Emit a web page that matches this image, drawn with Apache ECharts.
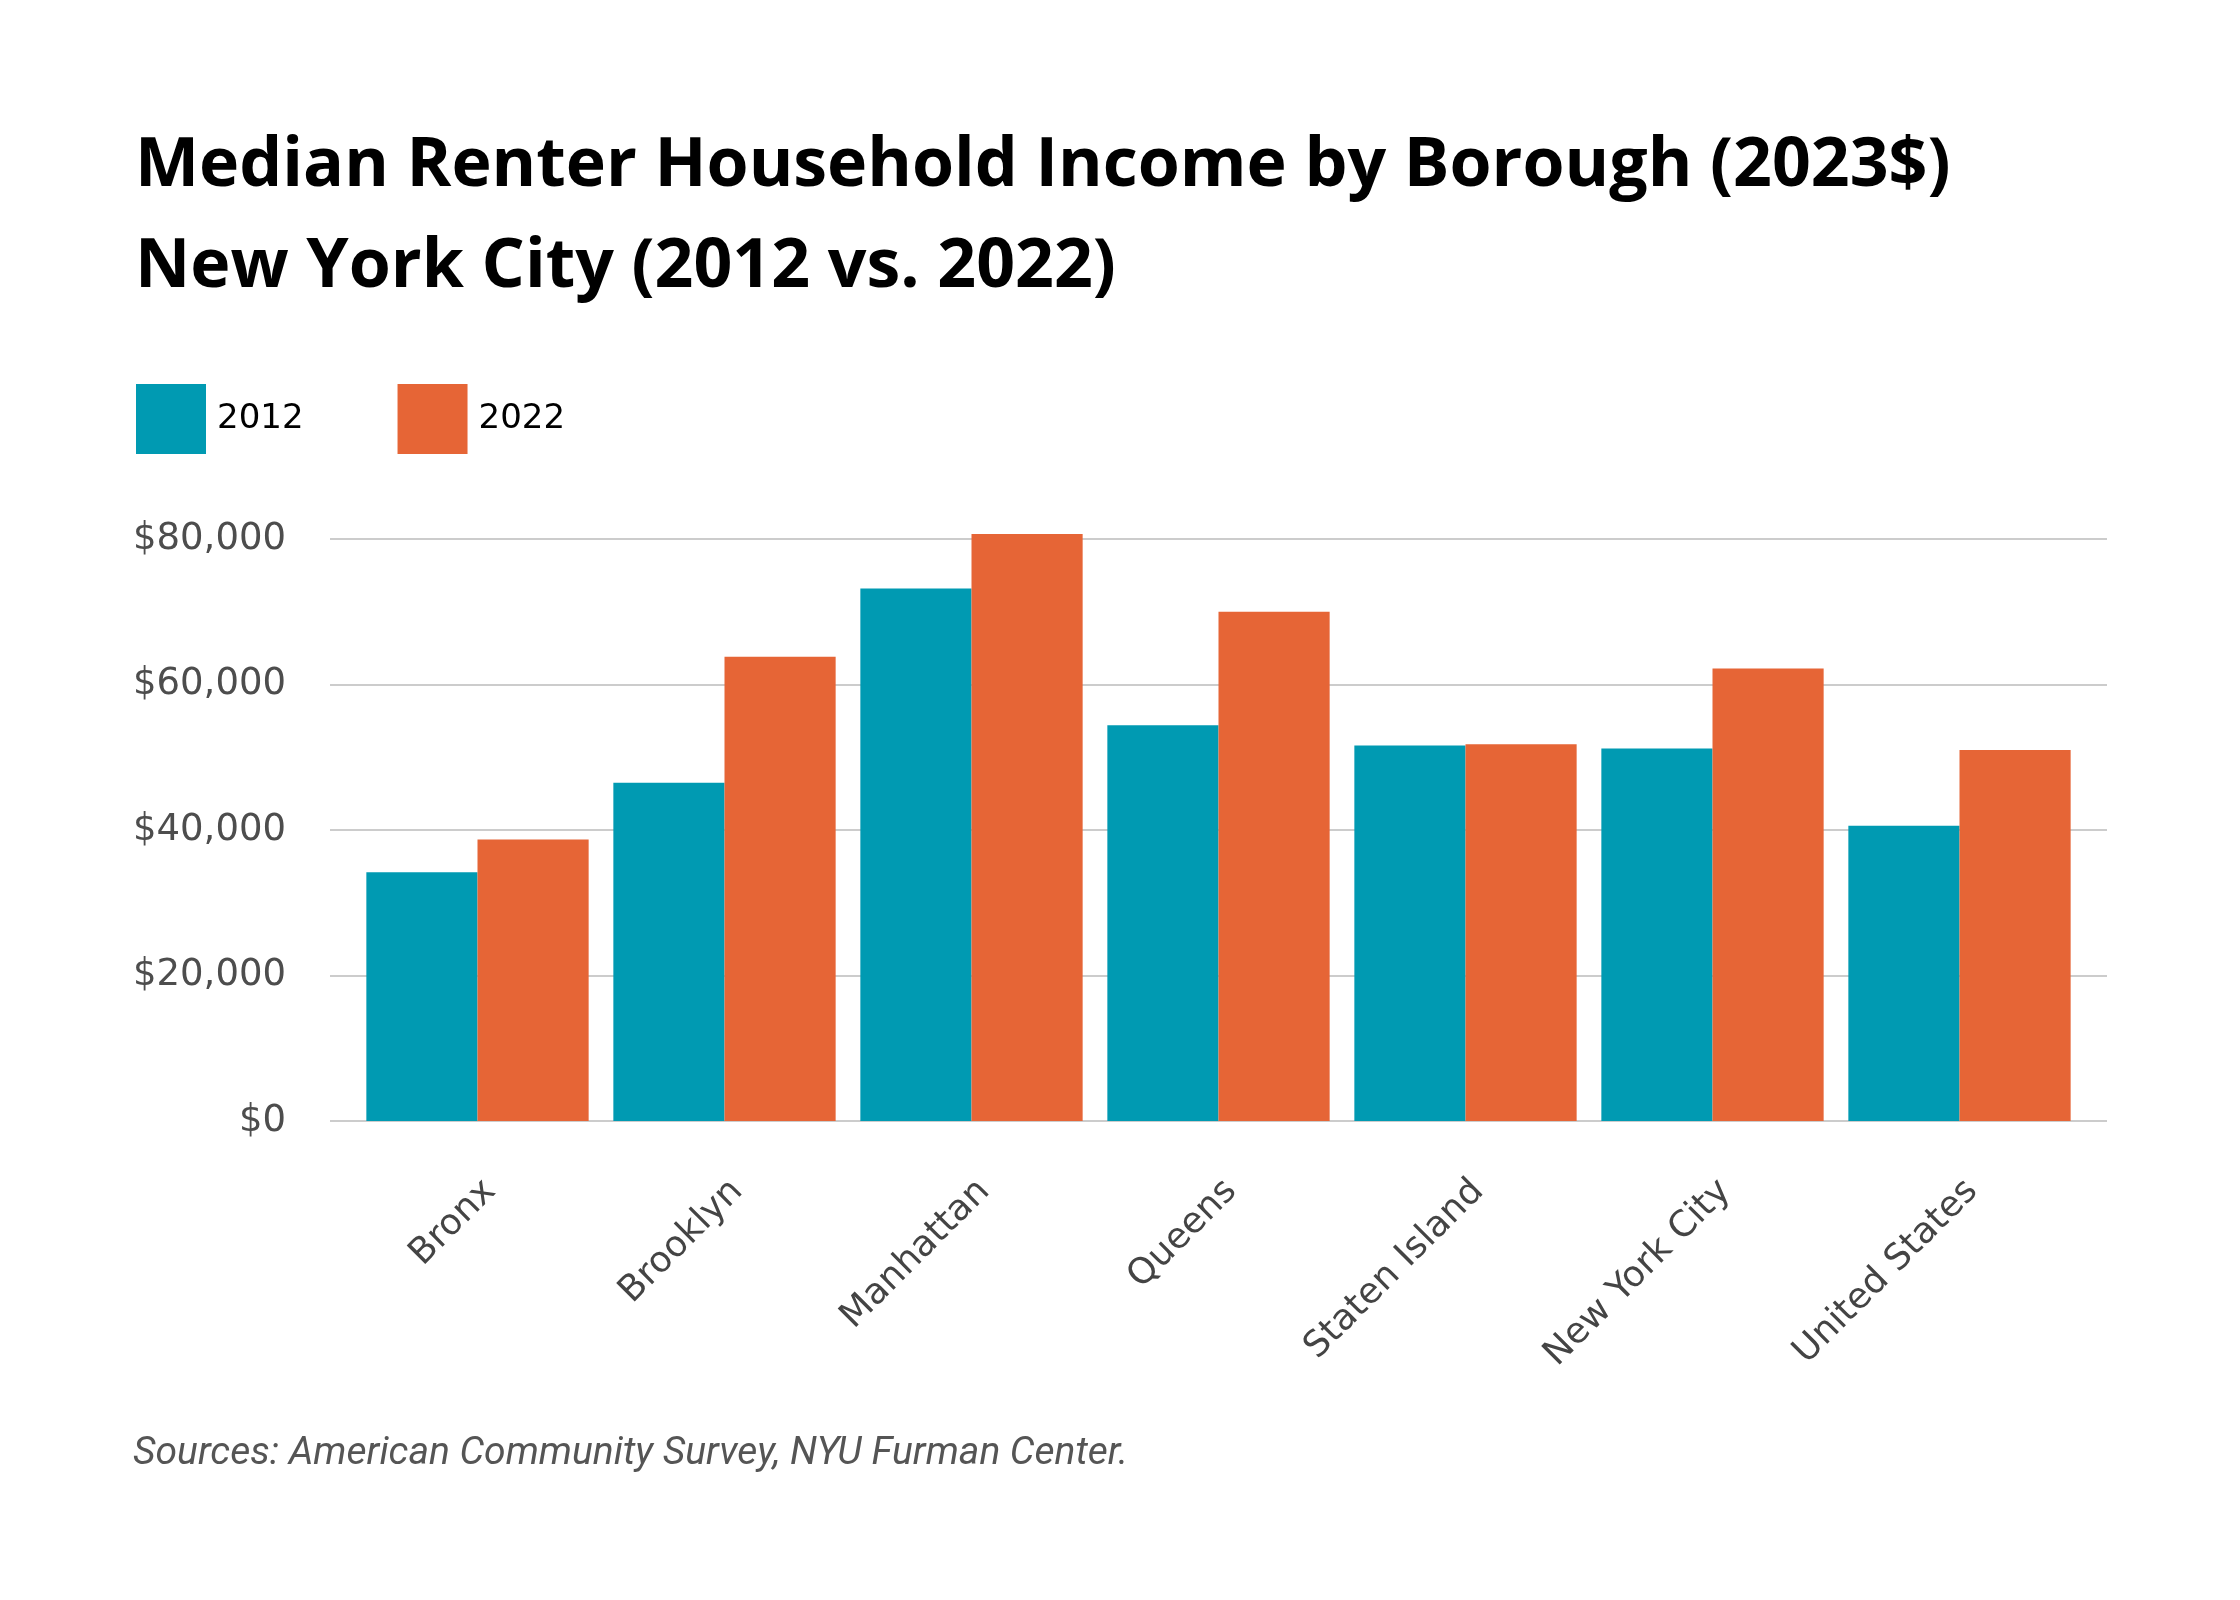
<!DOCTYPE html>
<html>
<head>
<meta charset="utf-8">
<script src="https://cdn.jsdelivr.net/npm/echarts@6/dist/echarts.min.js"></script>
<style>
  html, body { margin: 0; padding: 0; background: #fff; }
  #chart { width: 2240px; height: 1600px; }
</style>
</head>
<body>
<div id="chart"></div>
<script>
// data
var boroughs = ["Bronx", "Brooklyn", "Manhattan", "Queens", "Staten Island", "New York City", "United States"];
var income2012 = [34200, 46500, 73200, 54400, 51600, 51200, 40600];
var income2022 = [38700, 63800, 80700, 70000, 51800, 62200, 51000];
var seriesNames = ["2012", "2022"];
var yTicks = [0, 20000, 40000, 60000, 80000];

var colors = ["#009AB2", "#E66536"];

function money(v) {
  return "$" + v.toLocaleString("en-US");
}

var chart = echarts.init(document.getElementById("chart"));
chart.setOption({
  backgroundColor: "#ffffff",
  animation: false,
  title: [{
    text: "Median Renter Household Income by Borough (2023$)\nNew York City (2012 vs. 2022)",
    left: 130,
    top: 111,
    textStyle: {
      fontFamily: "Open Sans",
      fontWeight: "bold",
      fontSize: 68,
      lineHeight: 101,
      color: "#000"
    }
  }, {
    text: "Sources: American Community Survey, NYU Furman Center.",
    left: 128,
    top: 1430,
    textStyle: {
      fontFamily: "Roboto",
      fontStyle: "italic",
      fontWeight: "normal",
      fontSize: 39,
      color: "#555"
    }
  }],
  legend: {
    left: 131,
    top: 379,
    itemWidth: 70,
    itemHeight: 70,
    itemGap: 94,
    icon: "rect",
    data: seriesNames,
    textStyle: { fontFamily: "DejaVu Sans", fontSize: 34, color: "#000", padding: [0, 0, 0, 6] }
  },
  grid: [
    // wide grid carries the gridlines and y labels
    { left: 330, right: 133, top: 539, bottom: 479 },
    // narrower grid holds the bars
    { left: 354, right: 157, top: 539, bottom: 479 }
  ],
  xAxis: [{
    gridIndex: 0,
    type: "category",
    data: boroughs,
    show: false
  }, {
    gridIndex: 1,
    type: "category",
    data: boroughs,
    axisLine: { show: false },
    axisTick: { show: false },
    axisLabel: {
      rotate: 45,
      margin: 52,
      verticalAlign: "top",
      fontFamily: "DejaVu Sans",
      fontSize: 36,
      color: "#444"
    }
  }],
  yAxis: [{
    gridIndex: 0,
    type: "value",
    min: yTicks[0],
    max: yTicks[yTicks.length - 1],
    interval: 20000,
    axisLine: { show: false },
    axisTick: { show: false },
    splitLine: { lineStyle: { color: "#cccccc", width: 2 } },
    axisLabel: {
      margin: 44,
      fontFamily: "DejaVu Sans",
      fontSize: 37,
      color: "#4d4d4d",
      formatter: money
    }
  }, {
    gridIndex: 1,
    type: "value",
    min: yTicks[0],
    max: yTicks[yTicks.length - 1],
    interval: 20000,
    show: false
  }],
  series: [{
    name: seriesNames[0],
    type: "bar",
    xAxisIndex: 1,
    yAxisIndex: 1,
    data: income2012,
    clip: false,
    barGap: "0%",
    barCategoryGap: "10%",
    itemStyle: { color: colors[0] }
  }, {
    name: seriesNames[1],
    type: "bar",
    xAxisIndex: 1,
    yAxisIndex: 1,
    data: income2022,
    clip: false,
    barGap: "0%",
    barCategoryGap: "10%",
    itemStyle: { color: colors[1] }
  }]
});
</script>
</body>
</html>
